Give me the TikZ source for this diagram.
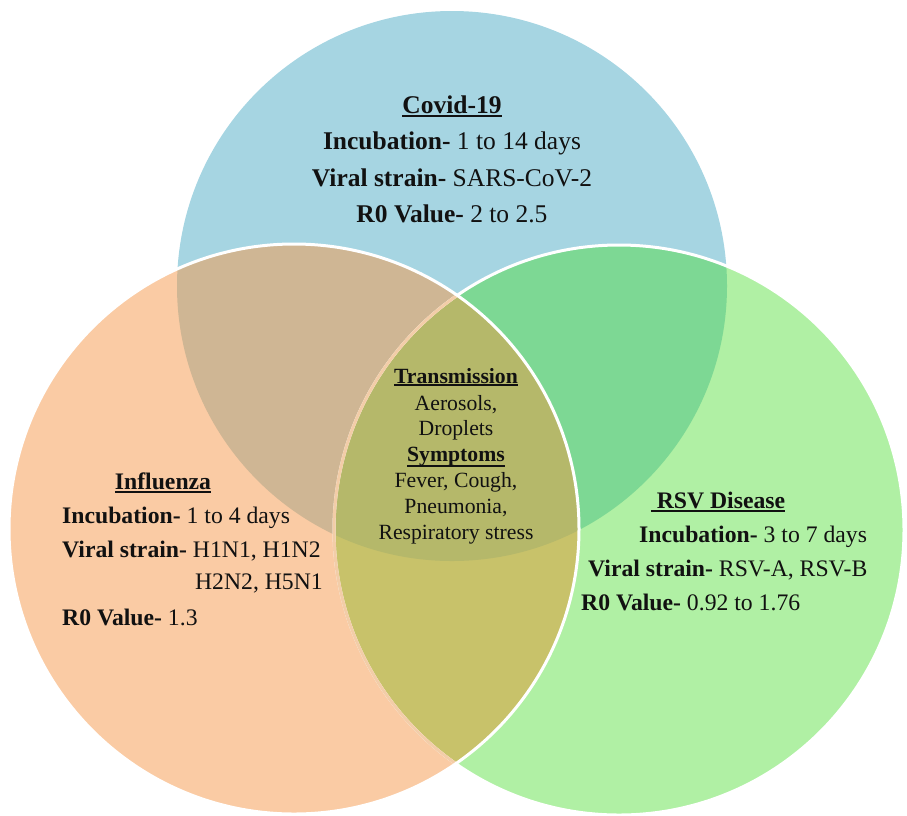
\documentclass[tikz,border=0pt]{standalone}
\usepackage{fontspec}
\setmainfont{Liberation Serif}
\definecolor{cBlue}{HTML}{A6D5E2}
\definecolor{cOrange}{HTML}{FACBA4}
\definecolor{cGreen}{HTML}{B0F0A4}
\definecolor{cBO}{HTML}{CFB694}
\definecolor{cBG}{HTML}{7DD894}
\definecolor{cOG}{HTML}{C8C26A}
\definecolor{cBOG}{HTML}{B5B86A}
\definecolor{cLens}{HTML}{F3CDA8}
\definecolor{cText}{HTML}{111111}
\newcommand{\myul}[2][0.15em]{\leavevmode\setbox0=\hbox{#2}\rlap{\rule[-#1]{\wd0}{0.075em}}\box0}
\tikzset{
  covtxt/.style={font=\fontsize{25.5}{30}\selectfont, inner sep=0pt, anchor=mid, text=cText},
  sidetxt/.style={font=\fontsize{23.7}{28}\selectfont, inner sep=0pt, text=cText},
  midtxt/.style={font=\fontsize{21.7}{26}\selectfont, inner sep=0pt, anchor=mid, text=cText},
  rim/.style={draw=white, line width=3pt},
}
\begin{document}
\begin{tikzpicture}[x=1pt,y=-1pt]
\useasboundingbox (0,0) rectangle (907,815);
\coordinate (cb) at (452,286);
\coordinate (co) at (294,529);
\coordinate (cg) at (619,530);
% base fills
\fill[cBlue] (cb) circle[radius=275];
\fill[cGreen] (cg) circle[radius=285];
\fill[cOrange] (co) circle[radius=285];
% pairwise overlaps
\begin{scope}
  \clip (cb) circle[radius=275];
  \fill[cBO] (co) circle[radius=285];
  \fill[cBG] (cg) circle[radius=285];
\end{scope}
\begin{scope}
  \clip (co) circle[radius=285];
  \fill[cOG] (cg) circle[radius=285];
\end{scope}
\begin{scope}
  \clip (cb) circle[radius=275];
  \clip (co) circle[radius=285];
  \fill[cBOG] (cg) circle[radius=285];
\end{scope}
% outlines
\draw[rim] (cg) circle[radius=285];
\begin{scope}
  \clip (co) circle[radius=285];
  \draw[draw=cLens, line width=3pt] (cg) circle[radius=285];
\end{scope}
\draw[rim] (co) circle[radius=285];
% Covid-19
\node[covtxt] (cvT) at (452,111) {\myul{\textbf{Covid-19}}};
\node[covtxt] (cvI) at (452,147) {\textbf{Incubation-} 1 to 14 days};
\node[covtxt] (cvV) at (452,184) {\textbf{Viral strain-} SARS-CoV-2};
\node[covtxt] (cvR) at (452,220) {\textbf{R0 Value-} 2 to 2.5};
% centre
\node[midtxt] (trT) at (456,381) {\myul[0.12em]{\textbf{Transmission}}};
\node[midtxt] (trA) at (456,408) {Aerosols,};
\node[midtxt] (trD) at (456,433) {Droplets};
\node[midtxt] (syT) at (456,459) {\myul[0.24em]{\textbf{Symptoms}}};
\node[midtxt] (syF) at (456,485) {Fever, Cough,};
\node[midtxt] (syP) at (456,511) {Pneumonia,};
\node[midtxt] (syR) at (456,537) {Respiratory stress};
% Influenza
\node[sidetxt, anchor=mid] (flT) at (163,487) {\myul{\textbf{Influenza}}};
\node[sidetxt, anchor=mid west] (flI) at (62,521) {\textbf{Incubation-} 1 to 4 days};
\node[sidetxt, anchor=mid west] (flV) at (62,555) {\textbf{Viral strain-} H1N1, H1N2};
\node[sidetxt, anchor=mid east] (flV2) at (323,587) {H2N2, H5N1};
\node[sidetxt, anchor=mid west] (flR) at (62,623) {\textbf{R0 Value-} 1.3};
% RSV
\node[sidetxt, anchor=mid] (rsT) at (718,506) {\myul{\textbf{~RSV Disease}}};
\node[sidetxt, anchor=mid west] (rsI) at (639,540) {\textbf{Incubation-} 3 to 7 days};
\node[sidetxt, anchor=mid west] (rsV) at (588,574) {\textbf{Viral strain-} RSV-A, RSV-B};
\node[sidetxt, anchor=mid west] (rsR) at (581,608) {\textbf{R0 Value-} 0.92 to 1.76};
\end{tikzpicture}
\end{document}
